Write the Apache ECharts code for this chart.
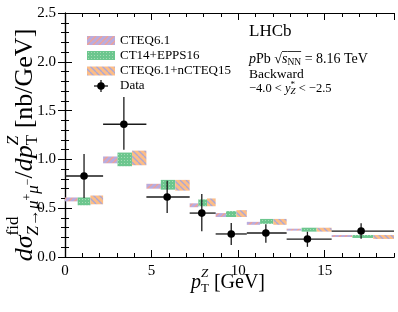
<!DOCTYPE html>
<html><head><meta charset="utf-8">
<script src="https://cdn.jsdelivr.net/npm/echarts@6/dist/echarts.min.js"></script>
<style>html,body{margin:0;padding:0;background:#fff}#c{width:398px;height:312px}</style>
</head><body><div id="c"></div>
<script>
// ---------- data ----------
const binEdges = [0, 2.2, 4.7, 7.2, 8.7, 10.5, 12.8, 15.4, 19.0];
const cteq61Lo = [0.57, 0.96, 0.70, 0.51, 0.41, 0.33, 0.27, 0.205];
const cteq61Hi = [0.61, 1.03, 0.75, 0.55, 0.45, 0.36, 0.29, 0.225];
const eppsLo   = [0.53, 0.93, 0.69, 0.52, 0.41, 0.34, 0.26, 0.195];
const eppsHi   = [0.61, 1.07, 0.79, 0.59, 0.47, 0.39, 0.30, 0.225];
const ncteqLo  = [0.54, 0.94, 0.68, 0.52, 0.41, 0.33, 0.26, 0.185];
const ncteqHi  = [0.63, 1.09, 0.79, 0.60, 0.48, 0.39, 0.30, 0.225];
const dataX    = [1.1, 3.4, 5.9, 7.9, 9.6, 11.6, 14.0, 17.1];
const dataY    = [0.83, 1.36, 0.615, 0.45, 0.236, 0.246, 0.184, 0.266];
const dataErrLo= [0.225, 0.26, 0.165, 0.185, 0.113, 0.10, 0.08, 0.08];
const dataErrHi= [0.225, 0.28, 0.165, 0.195, 0.113, 0.09, 0.075, 0.08];
const legendNames = ['CTEQ6.1', 'CT14+EPPS16', 'CTEQ6.1+nCTEQ15', 'Data'];

// ---------- patterns ----------
function hatch(bg, fg, dir, T, lw) {
  const c = document.createElement('canvas'); c.width = T; c.height = T;
  const g = c.getContext('2d'); g.fillStyle = bg; g.fillRect(0, 0, T, T);
  g.strokeStyle = fg; g.lineWidth = lw;
  for (let k = -1; k <= 1; k++) {
    g.beginPath();
    if (dir === '/') { g.moveTo(k * T, T); g.lineTo(k * T + T, 0); }
    else { g.moveTo(k * T, 0); g.lineTo(k * T + T, T); }
    g.stroke();
  }
  return { image: c, repeat: 'repeat' };
}
function dots(bg, fg, T) {
  const c = document.createElement('canvas'); c.width = T; c.height = T;
  const g = c.getContext('2d'); g.fillStyle = bg; g.fillRect(0, 0, T, T);
  g.fillStyle = fg; g.fillRect(1, 1, 1, 1);
  return { image: c, repeat: 'repeat' };
}
const patCteq = hatch('#b9acde', '#f2a193', '/', 6, 1.3);
const patEpps = dots('#6cc68e', '#a6dcb6', 3);
const patNcteq = hatch('#fdbd86', '#a9a6d8', '\\', 6, 1.3);

// ---------- math text helper ----------
const FONT = '"Liberation Serif", "DejaVu Serif", serif';
const mctx = document.createElement('canvas').getContext('2d');
function tw(t, s, it) { mctx.font = (it ? 'italic ' : '') + s + 'px ' + FONT; return mctx.measureText(t).width; }
function layoutMath(items, x0) {
  const out = []; let x = x0;
  for (const it of items) {
    if (it.sup || it.sub) {
      let w1 = 0, w2 = 0;
      if (it.sup) { const r = layoutMath(it.sup, x); out.push(...r.out); w1 = r.x - x; }
      if (it.sub) { const r = layoutMath(it.sub, x); out.push(...r.out); w2 = r.x - x; }
      x += Math.max(w1, w2);
    } else {
      const w = tw(it.t, it.s, it.i);
      out.push({ t: it.t, s: it.s, dy: it.dy || 0, i: !!it.i, x, w, bar: it.bar });
      x += w + (it.gap || 0);
    }
  }
  return { out, x };
}
function mathGroup(items, x, y, rot, align) {
  const r = layoutMath(items, 0);
  const off = align === 'center' ? -r.x / 2 : align === 'right' ? -r.x : 0;
  const children = r.out.map(p => ({
    type: 'text', x: p.x + off, y: p.dy,
    style: { text: p.t, font: (p.i ? 'italic ' : '') + p.s + 'px ' + FONT, fill: '#000', verticalAlign: 'middle', align: 'left' }
  }));
  r.out.filter(p => p.bar).forEach(p => {
    children.push({ type: 'line', shape: { x1: p.x + off, y1: p.bar, x2: p.x + off + p.w, y2: p.bar }, style: { stroke: '#000', lineWidth: 0.8 } });
  });
  return { type: 'group', x, y, rotation: rot || 0, children };
}

// ---------- series ----------
function modelSeries(name, lo, hi, k, pat) {
  return {
    type: 'custom', name, xAxisIndex: 0, yAxisIndex: 0, z: 2,
    data: lo.map((v, i) => [binEdges[i], binEdges[i + 1], v, hi[i]]),
    encode: { x: [0, 1], y: [2, 3] },
    renderItem(params, api) {
      const x0 = api.value(0), x1 = api.value(1), w = (x1 - x0) / 3;
      const a = api.coord([x0 + k * w, api.value(3)]);
      const b = api.coord([x0 + (k + 1) * w, api.value(2)]);
      return { type: 'rect', shape: { x: a[0], y: a[1], width: b[0] - a[0], height: b[1] - a[1] }, style: { fill: pat } };
    }
  };
}
const dataSeries = {
  type: 'custom', name: 'Data', xAxisIndex: 0, yAxisIndex: 0, z: 5,
  data: dataX.map((x, i) => [x, dataY[i], dataErrLo[i], dataErrHi[i], binEdges[i], binEdges[i + 1]]),
  encode: { x: [0, 4, 5], y: 1 },
  renderItem(params, api) {
    const x = api.value(0), y = api.value(1);
    const c = api.coord([x, y]), l = api.coord([api.value(4), y]), r = api.coord([api.value(5), y]);
    const t = api.coord([x, y + api.value(3)]), b = api.coord([x, y - api.value(2)]);
    const ls = { stroke: '#1a1a1a', lineWidth: 1.3 };
    return { type: 'group', children: [
      { type: 'line', shape: { x1: l[0], y1: c[1], x2: r[0], y2: c[1] }, style: ls },
      { type: 'line', shape: { x1: c[0], y1: t[1], x2: c[0], y2: b[1] }, style: ls },
      { type: 'circle', shape: { cx: c[0], cy: c[1], r: 3.8 }, style: { fill: '#000' } }
    ] };
  }
};

// ---------- axes ----------
const axLine = { show: true, lineStyle: { color: '#000', width: 1.2 } };
function xAx(pos, interval, len, labels) {
  return {
    type: 'value', position: pos, min: 0, max: 19, interval,
    axisLine: axLine, splitLine: { show: false },
    axisTick: { show: true, inside: true, length: len, lineStyle: { color: '#000', width: 1 } },
    axisLabel: labels ? { show: true, color: '#000', fontSize: 15, fontFamily: FONT, margin: 7, showMaxLabel: false } : { show: false }
  };
}
function yAx(pos, labels) {
  return {
    type: 'value', position: pos, min: 0, max: 2.5, interval: 0.5,
    axisLine: axLine, splitLine: { show: false },
    axisTick: { show: true, inside: true, length: 7, lineStyle: { color: '#000', width: 1 } },
    minorTick: { show: true, splitNumber: 5, length: 4, lineStyle: { color: '#000', width: 1 } },
    axisLabel: labels ? { show: true, color: '#000', fontSize: 15, fontFamily: FONT, margin: 9, formatter: v => v.toFixed(1) } : { show: false }
  };
}

// ---------- graphics: legend, annotations, axis names ----------
const S = 26, s2 = 17;
const yName = mathGroup([
  { t: 'd', s: S, i: true }, { t: 'σ', s: S, i: true },
  { sup: [{ t: 'fid', s: s2, dy: -11 }],
    sub: [{ t: 'Z', s: s2, dy: 9, i: true }, { t: '→', s: s2, dy: 9 }, { t: 'μ', s: s2, dy: 9, i: true },
          { t: '+', s: 12, dy: 3 }, { t: 'μ', s: s2, dy: 9, i: true }, { t: '−', s: 12, dy: 3 }] },
  { t: '/', s: S }, { t: 'd', s: S, i: true }, { t: 'p', s: S, i: true },
  { sup: [{ t: 'Z', s: s2, dy: -11, i: true }], sub: [{ t: 'T', s: s2, dy: 8 }] },
  { t: ' [nb/GeV]', s: S }
], 25, 145, Math.PI / 2, 'center');
const xName = mathGroup([
  { t: 'p', s: 20, i: true },
  { sup: [{ t: 'Z', s: 13, dy: -9, i: true }], sub: [{ t: 'T', s: 13, dy: 6 }] },
  { t: ' [GeV]', s: 20 }
], 228, 283, 0, 'center');

const lx = 87, lw = 28, lh = 9, ltx = 120, lfs = 13;
const legY = [40.5, 55.5, 71, 86];
const pats = [patCteq, patEpps, patNcteq];
const legendEls = [];
pats.forEach((p, i) => {
  legendEls.push({ type: 'rect', shape: { x: lx, y: legY[i] - lh / 2, width: lw, height: lh }, style: { fill: p } });
});
legendNames.forEach((n, i) => {
  legendEls.push({ type: 'text', x: ltx, y: legY[i], style: { text: n, font: lfs + 'px ' + FONT, fill: '#000', verticalAlign: 'middle' } });
});
legendEls.push({ type: 'line', shape: { x1: 94, y1: legY[3], x2: 108, y2: legY[3] }, style: { stroke: '#1a1a1a', lineWidth: 1.3 } });
legendEls.push({ type: 'line', shape: { x1: 101, y1: legY[3] - 6, x2: 101, y2: legY[3] + 6 }, style: { stroke: '#1a1a1a', lineWidth: 1.3 } });
legendEls.push({ type: 'circle', shape: { cx: 101, cy: legY[3], r: 3.8 }, style: { fill: '#000' } });

const annX = 249;
const annLHCb = { type: 'text', x: annX, y: 32, style: { text: 'LHCb', font: '17px ' + FONT, fill: '#000', verticalAlign: 'middle' } };
const annEnergy = mathGroup([
  { t: 'p', s: 14, i: true }, { t: 'Pb ', s: 14 }, { t: '√', s: 14 },
  { t: 's', s: 14, i: true, bar: -7.5 }, { t: 'NN', s: 9.5, dy: 3, bar: -7.5 }, { t: ' = 8.16 TeV', s: 14 }
], annX, 59, 0, 'left');
const annBack = { type: 'text', x: annX, y: 74, style: { text: 'Backward', font: '13.5px ' + FONT, fill: '#000', verticalAlign: 'middle' } };
const annRap = mathGroup([
  { t: '−4.0 < ', s: 12.5 }, { t: 'y', s: 12.5, i: true },
  { sup: [{ t: '*', s: 9, dy: -4 }], sub: [{ t: 'Z', s: 9, dy: 3, i: true }] },
  { t: ' < −2.5', s: 12.5 }
], annX, 89, 0, 'left');

const chart = echarts.init(document.getElementById('c'), null, { renderer: 'canvas' });
chart.setOption({
  animation: false,
  backgroundColor: '#fff',
  grid: { left: 65, right: 4, top: 13, bottom: 55, containLabel: false },
  xAxis: [xAx('bottom', 5, 7, true), xAx('bottom', 1, 4, false), xAx('top', 5, 7, false), xAx('top', 1, 4, false)],
  yAxis: [yAx('left', true), yAx('right', false)],
  series: [
    modelSeries('CTEQ6.1', cteq61Lo, cteq61Hi, 0, patCteq),
    modelSeries('CT14+EPPS16', eppsLo, eppsHi, 1, patEpps),
    modelSeries('CTEQ6.1+nCTEQ15', ncteqLo, ncteqHi, 2, patNcteq),
    dataSeries
  ],
  graphic: [yName, xName, ...legendEls, annLHCb, annEnergy, annBack, annRap]
});
</script></body></html>
